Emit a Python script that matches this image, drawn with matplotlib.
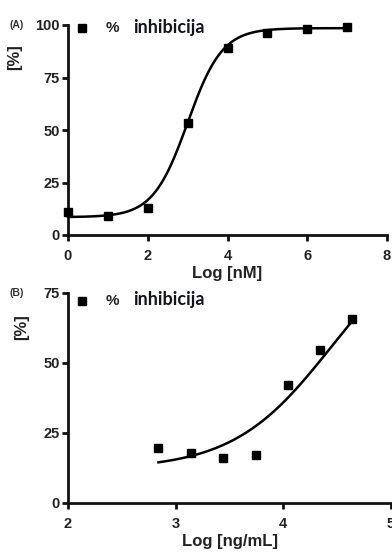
import numpy as np
import matplotlib
matplotlib.use("Agg")
import matplotlib.pyplot as plt

plt.rcParams['font.family'] = ['Liberation Sans', 'DejaVu Sans']

# Panel A data: Log [nM] vs % inhibicija
xa = [0, 1, 2, 3, 4, 5, 6, 7]
ya = [11, 9, 13, 53.5, 89, 96, 98, 99]
# sigmoid fit (bottom, top, logEC50, hill)
fit_a = (8.5, 98.5, 3.0, 1.0)
range_a = (0, 7)

# Panel B data: Log [ng/mL] vs % inhibicija
xb = [2.84, 3.14, 3.44, 3.745, 4.04, 4.34, 4.64]
yb = [19.6, 17.9, 16.1, 17.0, 42.3, 54.8, 65.8]
fit_b = (12.0, 100.0, 4.45, 0.95)
range_b = (2.84, 4.64)


def sigmoid(x, bottom, top, x0, hill):
    return bottom + (top - bottom) / (1 + 10 ** ((x0 - x) * hill))


def draw_panel(ax, x, y, fit, xr, xlim, ylim, xticks, yticks, xlabel):
    xs = np.linspace(xr[0], xr[1], 200)
    ax.plot(xs, sigmoid(xs, *fit), color='black', lw=1.8, clip_on=False, zorder=2)
    ax.plot(x, y, 's', color='black', ms=5.8, clip_on=False, zorder=3)
    ax.set_xlim(*xlim)
    ax.set_ylim(*ylim)
    ax.set_xticks(xticks)
    ax.set_yticks(yticks)
    for s in ['top', 'right']:
        ax.spines[s].set_visible(False)
    for s in ['left', 'bottom']:
        ax.spines[s].set_linewidth(2)
        ax.spines[s].set_color('#111111')
    ax.tick_params(width=2, length=4, color='#111111', labelsize=10.5,
                   labelcolor='#222222')
    ax.tick_params(axis='x', pad=6)
    ax.tick_params(axis='y', pad=2)
    for lab in ax.get_xticklabels() + ax.get_yticklabels():
        lab.set_fontweight('bold')
    ax.set_xlabel(xlabel, fontsize=12, fontweight='bold', color='#222222', labelpad=2)


fig = plt.figure(figsize=(3.92, 5.54), dpi=100)
W, H = 392, 554

ax_a = fig.add_axes([68 / W, 1 - 235 / H, (387 - 68) / W, 210 / H])
draw_panel(ax_a, xa, ya, fit_a, range_a, (0, 8), (0, 100),
           [0, 2, 4, 6, 8], [0, 25, 50, 75, 100], 'Log [nM]')

ax_b = fig.add_axes([68 / W, 1 - 503 / H, (391 - 68) / W, 210 / H])
draw_panel(ax_b, xb, yb, fit_b, range_b, (2, 5), (0, 75),
           [2, 3, 4, 5], [0, 25, 50, 75], 'Log [ng/mL]')

# panel letters, y labels and legend entries
for tag, ytop, ylab_x, ylab_y in [('(A)', 25, 15, 57), ('(B)', 293, 22, 327)]:
    fig.text(9 / W, 1 - ytop / H, tag, fontsize=7.5, fontweight='bold',
             color='#333333', va='center', ha='left')
    fig.text(ylab_x / W, 1 - ylab_y / H, '[%]', fontsize=12, fontweight='bold',
             color='#222222', rotation=90, va='center', ha='center')

for ax, ly in [(ax_a, 28), (ax_b, 301)]:
    fig.lines.append(plt.Line2D([81.5 / W], [1 - ly / H], marker='s', ms=5.8,
                                color='black', transform=fig.transFigure))
    fig.text(106 / W, 1 - ly / H, '%', fontsize=11, fontweight='bold',
             color='#222222', va='center', ha='left')
    fig.text(133 / W, 1 - (ly - 1) / H, 'inhibicija', fontsize=13,
             family=['Lato', 'DejaVu Sans'], fontweight='bold',
             color='#141420', va='center', ha='left')

fig.savefig('out.png', dpi=100)
